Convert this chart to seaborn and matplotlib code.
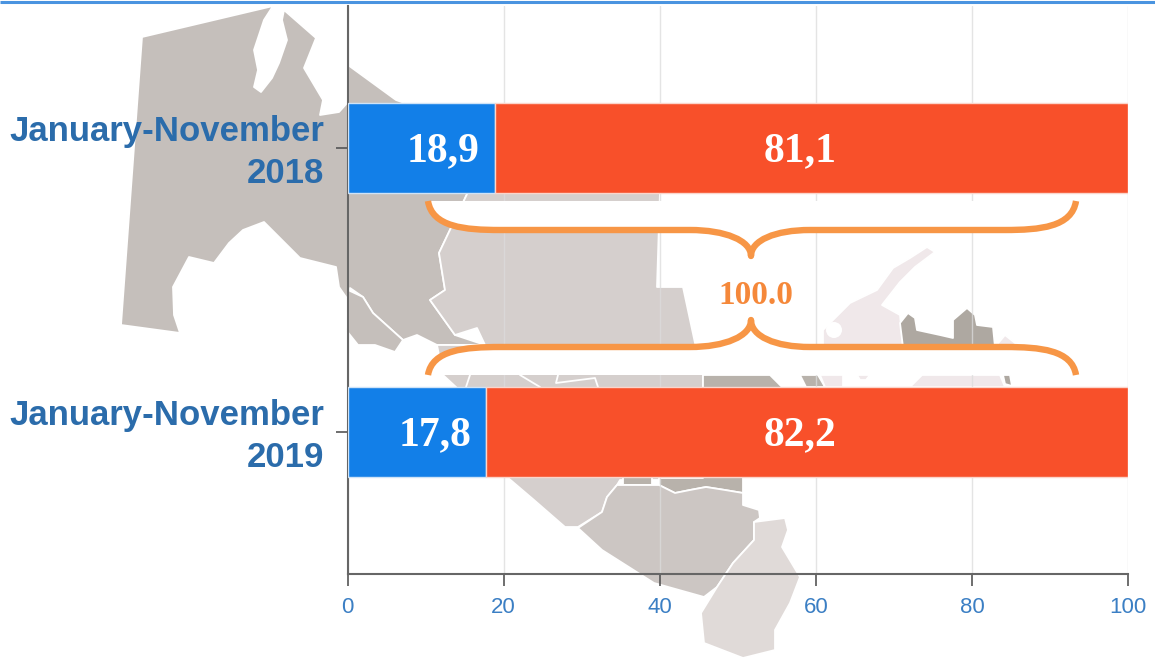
import matplotlib
matplotlib.use("Agg")
import matplotlib.pyplot as plt
from matplotlib.path import Path
from matplotlib.patches import PathPatch, Polygon
from matplotlib.transforms import ScaledTranslation
import pandas as pd
import seaborn as sns

periods = ["January-November\n2018", "January-November\n2019"]
blue_values = [18.9, 17.8]
red_values = [81.1, 82.2]
blue_labels = ["18,9", "17,8"]
red_labels = ["81,1", "82,2"]
x_ticks = [0, 20, 40, 60, 80, 100]
total_label = "100.0"

W, H = 1155, 660
sns.set_theme(style="white")
fig = plt.figure(figsize=(W / 100, H / 100), dpi=100, facecolor="white")

# backdrop map and frame, in pixel coordinates of the picture
bg = fig.add_axes([0, 0, 1, 1], zorder=0)
bg.set_xlim(0, W)
bg.set_ylim(H, 0)
bg.axis("off")
bg.plot([0, W], [1.5, 1.5], color="#4a94e0", lw=2.2, solid_capstyle="butt")

map_shapes = [
    ("#c5bfbb", [(142, 37), (273, 6), (264, 20), (254, 50), (258, 70), (254, 87), (261, 92), (272, 78), (279, 63),
                 (287, 40), (282, 20), (284, 10), (316, 38), (304, 68), (323, 100), (320, 115), (339, 112), (348, 102),
                 (348, 65), (396, 100), (480, 130), (468, 192), (439, 253), (445, 290), (430, 300), (455, 335),
                 (485, 345), (437, 345), (417, 335), (403, 340), (373, 313), (363, 297), (350, 288), (348, 300),
                 (339, 287), (336, 267), (300, 258), (282, 240), (264, 222), (243, 230), (229, 243), (214, 263),
                 (189, 257), (173, 287), (174, 315), (180, 333), (121, 325)]),
    ("#c5bfbb", [(348, 290), (363, 297), (373, 313), (403, 340), (395, 352), (375, 345), (358, 345), (346, 330)]),
    ("#d5cfcd", [(468, 192), (660, 192), (657, 287), (683, 287), (695, 343), (703, 375), (703, 480), (620, 480),
                 (617, 485), (607, 497), (602, 512), (578, 527), (565, 527), (534, 500), (507, 477), (470, 400),
                 (443, 375), (437, 345), (485, 345), (477, 328), (455, 335), (430, 300), (445, 290), (439, 253)]),
    ("#b8b2ab", [(703, 375), (770, 375), (790, 395), (790, 478), (743, 478), (743, 493), (725, 490), (706, 487),
                 (690, 490), (675, 493), (659, 485), (659, 478), (703, 478)]),
    ("#b8b2ab", [(623, 477), (652, 477), (652, 485), (623, 485)]),
    ("#b8b2ab", [(800, 375), (818, 375), (825, 387), (806, 387)]),
    ("#ccc6c3", [(578, 528), (602, 512), (607, 497), (617, 485), (659, 485), (675, 493), (690, 490), (706, 487),
                 (725, 490), (743, 493), (743, 505), (759, 510), (760, 518), (754, 522), (754, 540), (733, 563),
                 (717, 587), (704, 597), (654, 583), (602, 550)]),
    ("#e0dad8", [(754, 522), (785, 518), (788, 530), (782, 547), (800, 577), (790, 603), (775, 630), (775, 650),
                 (743, 658), (704, 643), (701, 613), (717, 587), (733, 563), (754, 540)]),
    ("#f0e8ea", [(927, 247), (935, 252), (915, 267), (900, 282), (882, 305), (900, 315), (903, 347), (823, 347),
                 (823, 330), (850, 303), (877, 290), (893, 268), (910, 258)]),
    ("#f0e8ea", [(995, 347), (1005, 335), (1020, 347)]),
    ("#f0e8ea", [(820, 375), (843, 375), (843, 387), (825, 387)]),
    ("#f0e8ea", [(857, 375), (870, 375), (866, 380), (860, 380)]),
    ("#f0e8ea", [(922, 375), (1000, 375), (1005, 387), (910, 387)]),
    ("#aea8a1", [(900, 323), (908, 313), (915, 318), (917, 330), (940, 335), (953, 338), (953, 320), (967, 308),
                 (975, 315), (977, 325), (993, 327), (995, 347), (903, 347)]),
    ("#aea8a1", [(1003, 375), (1010, 375), (1012, 386), (1005, 384)]),
]
for colour, pts in map_shapes:
    bg.add_patch(Polygon(pts, closed=True, facecolor=colour, edgecolor="white", lw=1.3, joinstyle="round"))
bg.add_patch(plt.Circle((834, 330), 8, color="white", lw=0))
for pts in [[(520, 375), (540, 387)], [(558, 375), (556, 383), (595, 378), (598, 387)], [(470, 375), (466, 387)]]:
    bg.plot(*zip(*pts), color="white", lw=1.3)

# chart
left, right = 347.5, 1128
top, bottom = 6, 574
ax = fig.add_axes([left / W, 1 - bottom / H, (right - left) / W, (bottom - top) / H], zorder=1)
ax.patch.set_alpha(0)

df = pd.DataFrame({"period": periods, "blue": blue_values, "red": red_values})
sns.barplot(data=df, y="period", x="blue", color="#127fe8", saturation=1, width=0.315,
            edgecolor="#cfe3f7", linewidth=1, ax=ax, zorder=3)
sns.barplot(data=df, y="period", x="red", left=blue_values, color="#f8502a", saturation=1, width=0.315,
            edgecolor="#fbd5cb", linewidth=1, ax=ax, zorder=3)

ax.set_xlim(0, 100)
ax.set_ylim(1.5, -0.5)
ax.set_xlabel("")
ax.set_ylabel("")
ax.set_xticks(x_ticks)
ax.grid(axis="x", color="#dcdcdc", lw=1, alpha=0.75, zorder=1)
ax.set_axisbelow(True)
for s in ["top", "right"]:
    ax.spines[s].set_visible(False)
for s in ["left", "bottom"]:
    ax.spines[s].set_color("#666666")
    ax.spines[s].set_linewidth(1.5)
ax.tick_params(axis="x", length=8.5, width=1.2, color="#555555", labelsize=16, labelcolor="#3b7fc4", pad=8, bottom=True)
ax.tick_params(axis="y", length=8.5, width=1.2, color="#555555", pad=8, left=True)
for t in ax.get_xticklabels():
    t.set_fontfamily("Liberation Sans")
nudge = ScaledTranslation(0, 4 / 100, fig.dpi_scale_trans)
for t in ax.get_yticklabels():
    t.set_fontfamily("Liberation Sans")
    t.set_fontweight("bold")
    t.set_fontsize(25)
    t.set_color("#2b6cab")
    t.set_multialignment("right")
    t.set_linespacing(1.35)
    t.set_transform(t.get_transform() + nudge)

label_style = dict(color="white", family="Liberation Serif", fontweight="bold", fontsize=30, va="center")
for i, (v, txt) in enumerate(zip(blue_values, blue_labels)):
    ax.annotate(txt, xy=(v, i), xytext=(-11, -2), textcoords="offset points", ha="right", zorder=5, **label_style)
for i, txt in enumerate(red_labels):
    ax.annotate(txt, xy=(58, i), xytext=(0, -2), textcoords="offset points", ha="center", zorder=5, **label_style)

# braces
over = fig.add_axes([0, 0, 1, 1], zorder=2)
over.set_xlim(0, W)
over.set_ylim(H, 0)
over.axis("off")
M, L, C = Path.MOVETO, Path.LINETO, Path.CURVE4


def brace(end_y, bar_y, tip_y):
    verts = [(428, end_y), (432, bar_y - (bar_y - end_y) * 0.1), (465, bar_y), (500, bar_y),
             (690, bar_y),
             (725, bar_y), (751, tip_y - (tip_y - bar_y) * 0.6), (751, tip_y),
             (751, tip_y - (tip_y - bar_y) * 0.6), (775, bar_y), (810, bar_y),
             (1005, bar_y),
             (1040, bar_y), (1072, bar_y - (bar_y - end_y) * 0.1), (1076, end_y)]
    codes = [M, C, C, C, L, C, C, C, C, C, C, L, C, C, C]
    return Path(verts, codes)


for end_y, bar_y, tip_y in [(201, 230, 256), (375, 347, 320)]:
    over.add_patch(PathPatch(brace(end_y, bar_y, tip_y), facecolor="white", edgecolor="#f79646", lw=4.6,
                             capstyle="butt", joinstyle="round"))
over.text(756, 296, total_label, color="#f5883a", family="Liberation Serif", fontweight="bold", fontsize=24,
          ha="center", va="center")

fig.savefig("out.png", dpi=100)
